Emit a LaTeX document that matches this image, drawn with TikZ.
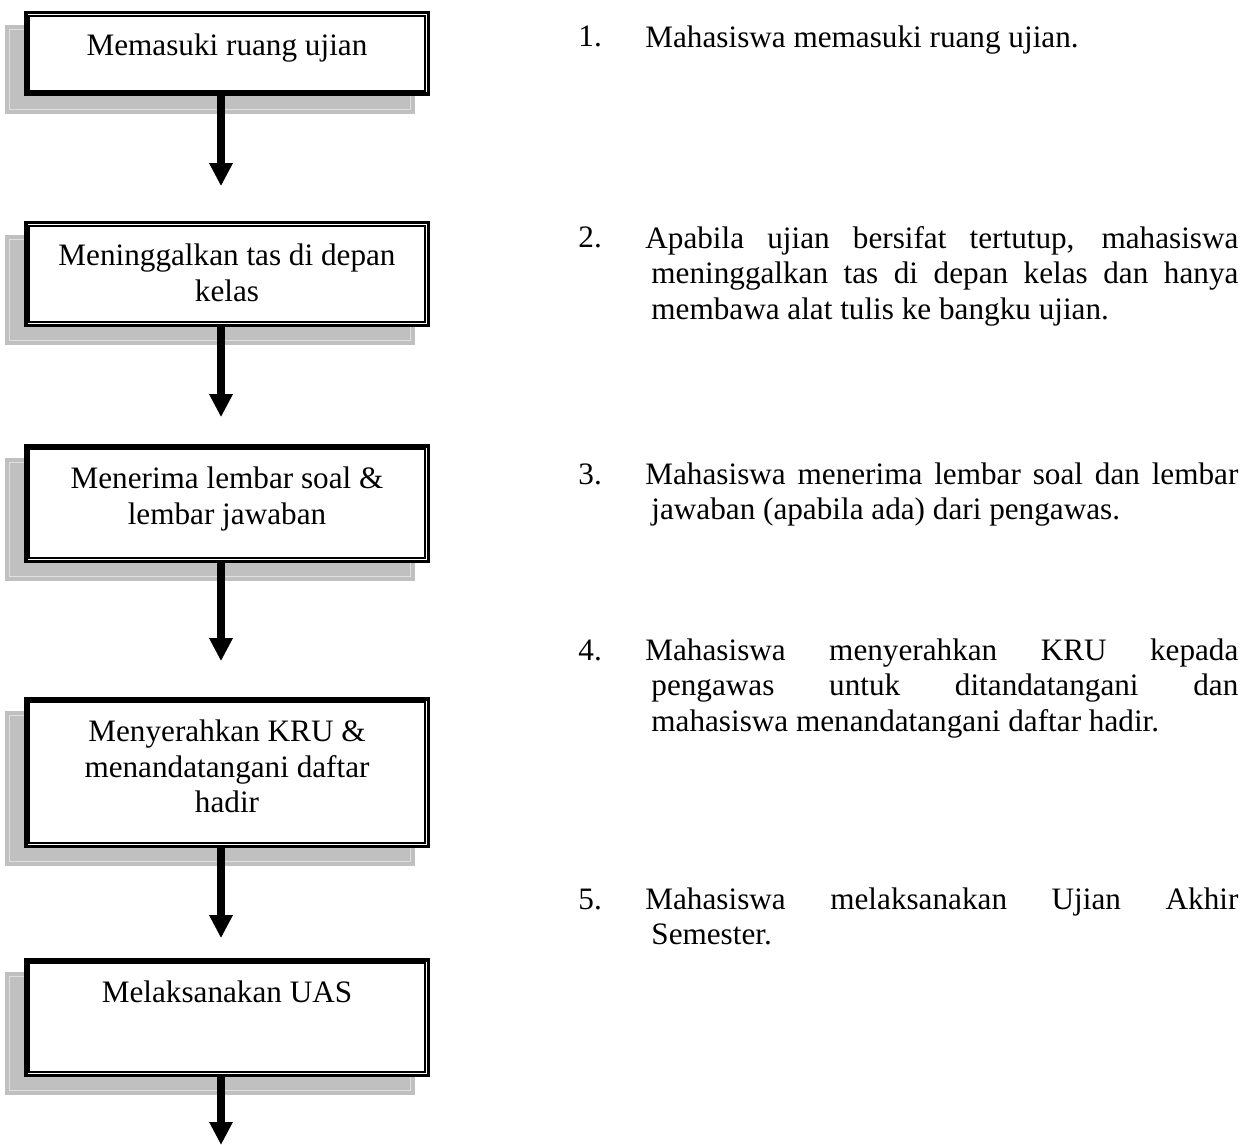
\documentclass[tikz,border=0pt]{standalone}
\usepackage{fontspec}
\setmainfont{Liberation Serif}
\usetikzlibrary{arrows.meta,backgrounds}

\definecolor{shadowgray}{RGB}{192,192,192}
\definecolor{shadowrim}{RGB}{224,224,224}

% strut that fixes the height of a first line of text
\newcommand\firststrut{\rule{0pt}{11pt}}

\begin{document}
\begin{tikzpicture}[x=0.5pt,y=-0.5pt,
  txt/.style={font={\fontsize{15.6pt}{17.75pt}\selectfont\hyphenpenalty=10000 \tolerance=9999 }},
  stepbox/.style={draw=black, fill=white, line width=1.75pt, minimum width=201.25pt, inner sep=0pt},
  boxtext/.style={txt, align=center, inner sep=0pt, anchor=north},
  itemno/.style={txt, inner sep=0pt, anchor=base west},
  itemtext/.style={txt, text width=296.5pt, align=justify, inner sep=0pt, anchor=north west},
  flow/.style={line width=3.8pt, -{Triangle[width=11pt,length=11.5pt]}},
  innerframe/.style={draw=black, line width=1pt},
]
\useasboundingbox (0,0) rectangle (1254,1145);

% flow steps
\node[stepbox, minimum height=40.75pt] (b1) at (227,53.5) {};
\node[stepbox, minimum height=51.25pt] (b2) at (227,274) {};
\node[stepbox, minimum height=57.75pt] (b3) at (227,503.5) {};
\node[stepbox, minimum height=73.75pt] (b4) at (227,772.5) {};
\node[stepbox, minimum height=57.75pt] (b5) at (227,1017.5) {};

% inner line of each double frame
\foreach \n in {b1,b2,b3,b4,b5}
  \draw[innerframe] ([shift={(4.75,4.75)}]\n.north west) rectangle ([shift={(-4.75,-4.75)}]\n.south east);

% drop shadows behind the steps
\begin{scope}[on background layer]
  \fill[white] (0,0) rectangle (1254,1145);
  \foreach \n in {b1,b2,b3,b4,b5} {
    \fill[shadowgray] ([shift={(-18.75,17.75)}]\n.south west) rectangle ([shift={(-15.25,14.25)}]\n.north east);
    \draw[shadowrim, line width=0.6pt] ([shift={(-14.75,13.75)}]\n.south west) rectangle ([shift={(-19.25,18.25)}]\n.north east);
  }
\end{scope}

% step captions
\node[boxtext] (t1) at ([yshift=-11.125pt]b1.north) {\firststrut Memasuki ruang ujian};
\node[boxtext] (t2) at ([yshift=-11.125pt]b2.north) {\firststrut Meninggalkan tas di depan\\ kelas};
\node[boxtext] (t3) at ([yshift=-11.125pt]b3.north) {\firststrut Menerima lembar soal \&\\ lembar jawaban};
\node[boxtext] (t4) at ([yshift=-11.125pt]b4.north) {\firststrut Menyerahkan KRU \&\\ menandatangani daftar\\ hadir};
\node[boxtext] (t5) at ([yshift=-11.125pt]b5.north) {\firststrut Melaksanakan UAS};

% connectors
\coordinate (fin) at (221,1145);
\draw[flow, shorten >=17.4pt] ([xshift=-3pt]b1.south) -- ([xshift=-3pt]b2.north);
\draw[flow, shorten >=13.4pt] ([xshift=-3pt]b2.south) -- ([xshift=-3pt]b3.north);
\draw[flow, shorten >=17.9pt] ([xshift=-3pt]b3.south) -- ([xshift=-3pt]b4.north);
\draw[flow, shorten >=9.9pt]  ([xshift=-3pt]b4.south) -- ([xshift=-3pt]b5.north);
\draw[flow] ([xshift=-3pt]b5.south) -- (fin);

% numbered descriptions (continuation lines sit slightly further right)
\node[itemno] (n1) at (578,47) {1.};
\node[itemtext] (p1) at (645,25) {\noindent\firststrut Mahasiswa memasuki ruang ujian.\par};

\node[itemno] (n2) at (578,248) {2.};
\node[itemtext] (p2) at (645,226) {\noindent\hangindent=3pt\hangafter=1\firststrut Apabila ujian bersifat tertutup, mahasiswa\linebreak meninggalkan tas di depan kelas dan hanya\linebreak membawa alat tulis ke bangku ujian.\par};

\node[itemno] (n3) at (578,484) {3.};
\node[itemtext] (p3) at (645,462) {\noindent\hangindent=3pt\hangafter=1\firststrut Mahasiswa menerima lembar soal dan lembar\linebreak jawaban (apabila ada) dari pengawas.\par};

\node[itemno] (n4) at (578,660) {4.};
\node[itemtext] (p4) at (645,638) {\noindent\hangindent=3pt\hangafter=1\firststrut Mahasiswa menyerahkan KRU kepada\linebreak pengawas untuk ditandatangani dan\linebreak mahasiswa menandatangani daftar hadir.\par};

\node[itemno] (n5) at (578,909) {5.};
\node[itemtext] (p5) at (645,887) {\noindent\hangindent=3pt\hangafter=1\firststrut Mahasiswa melaksanakan Ujian Akhir\linebreak Semester.\par};
\end{tikzpicture}
\end{document}
